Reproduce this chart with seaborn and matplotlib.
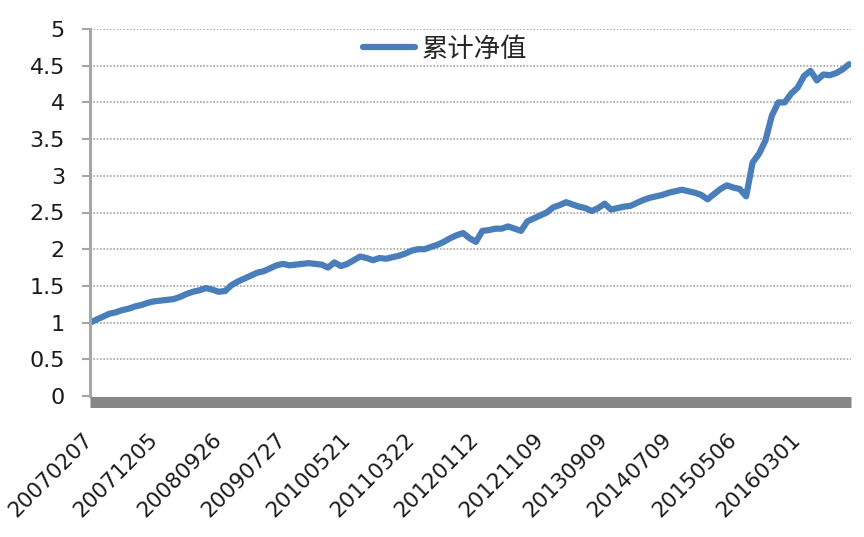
import matplotlib
matplotlib.use("Agg")
import matplotlib.pyplot as plt
import seaborn as sns
import pandas as pd

# ---- data ----
series_name = "累计净值"
tick_labels = ["20070207", "20071205", "20080926", "20090727", "20100521",
               "20110322", "20120112", "20121109", "20130909", "20140709",
               "20150506", "20160301"]
label_step = 10  # points between consecutive labelled categories
nav_values = [
    1.00, 1.04, 1.08, 1.12, 1.14, 1.17, 1.19, 1.22, 1.24, 1.27,
    1.29, 1.30, 1.31, 1.32, 1.35, 1.39, 1.42, 1.44, 1.47, 1.45,
    1.42, 1.43, 1.51, 1.56, 1.60, 1.64, 1.68, 1.70, 1.74, 1.78,
    1.80, 1.78, 1.79, 1.80, 1.81, 1.80, 1.79, 1.75, 1.82, 1.77,
    1.80, 1.85, 1.90, 1.88, 1.85, 1.88, 1.87, 1.89, 1.91, 1.94,
    1.98, 2.00, 2.00, 2.03, 2.06, 2.10, 2.15, 2.19, 2.22, 2.15,
    2.10, 2.25, 2.26, 2.28, 2.28, 2.31, 2.28, 2.25, 2.38, 2.42,
    2.46, 2.50, 2.57, 2.60, 2.64, 2.61, 2.58, 2.56, 2.52, 2.56,
    2.62, 2.54, 2.56, 2.58, 2.59, 2.63, 2.67, 2.70, 2.72, 2.74,
    2.77, 2.79, 2.81, 2.79, 2.77, 2.74, 2.68, 2.75, 2.82, 2.87,
    2.84, 2.82, 2.72, 3.18, 3.30, 3.48, 3.82, 4.00, 4.00, 4.12,
    4.20, 4.36, 4.43, 4.30, 4.38, 4.37, 4.40, 4.45, 4.52,
]
y_ticks = [0, 0.5, 1, 1.5, 2, 2.5, 3, 3.5, 4, 4.5, 5]
y_tick_labels = ["0", "0.5", "1", "1.5", "2", "2.5", "3", "3.5", "4", "4.5", "5"]

df = pd.DataFrame({"idx": range(len(nav_values)), series_name: nav_values})

# ---- style ----
sns.set_style("white")
plt.rcParams["font.family"] = ["DejaVu Sans", "Noto Sans CJK SC"]

fig = plt.figure(figsize=(8.64, 5.37), dpi=100)
ax = fig.add_axes([90 / 864, 1 - 396 / 537, (851 - 90) / 864, (396 - 29) / 537])

line_color = "#4a7ebb"
sns.lineplot(data=df, x="idx", y=series_name, ax=ax, color=line_color,
             linewidth=4.5, label=series_name, legend=False)

ax.set_xlim(0, 118.3)
ax.set_ylim(0, 5)
ax.set_xlabel("")
ax.set_ylabel("")

# spines (set position first: it resets the ticks)
for s in ["top", "right"]:
    ax.spines[s].set_visible(False)
ax.spines["left"].set_color("#a6a6a6")
ax.spines["left"].set_linewidth(2.2)
ax.spines["bottom"].set_position(("outward", 4))
ax.spines["bottom"].set_color("#868686")
ax.spines["bottom"].set_linewidth(7.9)
ax.spines["bottom"].set_capstyle("butt")

# y axis
ax.tick_params(axis="y", which="major", direction="out", length=6, width=1.5,
               color="#a6a6a6", pad=12, labelsize=16, labelcolor="#1a1a1a", left=True)
ax.set_yticks(y_ticks)
ax.set_yticklabels(y_tick_labels)
for y in y_ticks[1:]:
    ax.axhline(y, color="#a6a6a6", linewidth=1.2, linestyle=(0, (1, 1)), zorder=0)

# x axis categories
ax.tick_params(axis="x", which="major", length=0, pad=25, labelsize=15.5,
               labelcolor="#1a1a1a", labelrotation=45)
xt = [i * label_step for i in range(len(tick_labels))]
ax.set_xticks(xt)
ax.set_xticklabels(tick_labels)
for lab in ax.get_xticklabels():
    lab.set_rotation(45)
    lab.set_ha("right")
    lab.set_va("center")
    lab.set_rotation_mode("anchor")

# legend
handles, labels = ax.get_legend_handles_labels()
fig.legend(handles, labels, loc="center", bbox_to_anchor=(445 / 864, 1 - 49 / 537),
           frameon=False, handlelength=2.0, handletextpad=0.25,
           prop={"family": ["Noto Sans CJK SC"], "size": 19})

fig.savefig("out.png", dpi=100)
